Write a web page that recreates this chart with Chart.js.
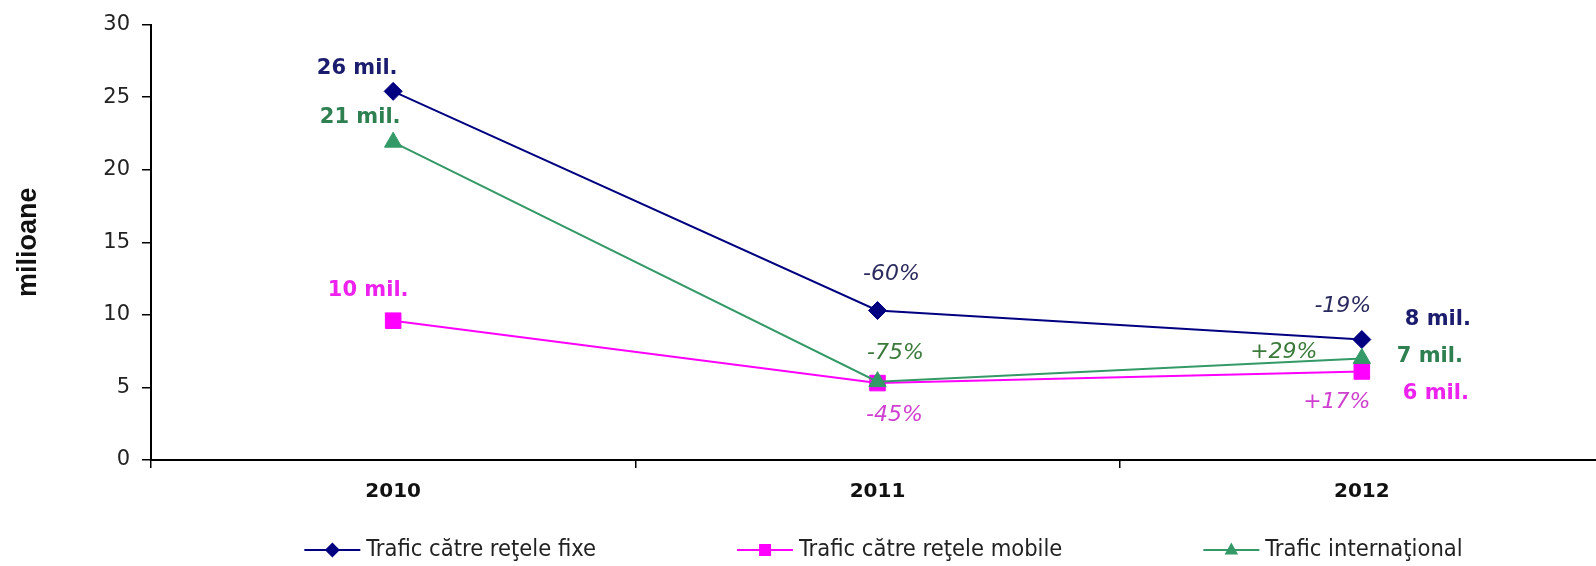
<!DOCTYPE html>
<html>
<head>
<meta charset="utf-8">
<script src="https://cdn.jsdelivr.net/npm/chart.js@4.4.1/dist/chart.umd.min.js"></script>
<style>
  html, body { margin: 0; padding: 0; background: #fff; overflow: hidden; }
  #wrap { width: 1616px; height: 566px; }
</style>
</head>
<body>
<div id="wrap"><canvas id="myChart" width="1616" height="566"></canvas></div>
<script>
const years = ['2010', '2011', '2012'];
const fixe = [25.4, 10.3, 8.3];
const mobile = [9.6, 5.3, 6.1];
const international = [21.9, 5.4, 7.0];
const yTicks = [0, 5, 10, 15, 20, 25, 30];

const seriesNames = ['Trafic către reţele fixe', 'Trafic către reţele mobile', 'Trafic internaţional'];
const startLabels = ['26 mil.', '10 mil.', '21 mil.'];
const endLabels = ['8 mil.', '6 mil.', '7 mil.'];
const change2011 = ['-60%', '-45%', '-75%'];
const change2012 = ['-19%', '+17%', '+29%'];

const valueColors = ['#1c1c6e', '#ee22ee', '#2e8050'];
const pctColors = ['#2a2a5e', '#d040d0', '#3b7a3b'];

function drawMarker(ctx, style, x, y, r, color) {
  ctx.fillStyle = color;
  ctx.beginPath();
  if (style === 'rectRot') {
    ctx.moveTo(x - r, y); ctx.lineTo(x, y - r); ctx.lineTo(x + r, y); ctx.lineTo(x, y + r);
  } else if (style === 'rect') {
    ctx.rect(x - r * 0.8, y - r * 0.8, r * 1.6, r * 1.6);
  } else {
    ctx.moveTo(x, y - r); ctx.lineTo(x + r * 0.9, y + r * 0.6); ctx.lineTo(x - r * 0.9, y + r * 0.6);
  }
  ctx.closePath();
  ctx.fill();
}

// value and change labels next to the points
const notesPlugin = {
  id: 'notes',
  afterDatasetsDraw(chart) {
    const ctx = chart.ctx;
    const xs = chart.scales.x, ys = chart.scales.y;
    const series = [fixe, mobile, international];
    const bold = 'bold 21px "DejaVu Sans"';
    const italic = 'italic 22px "DejaVu Sans"';
    const put = (texts, idx, offsets, font, colors) => {
      texts.forEach((t, s) => {
        const px = xs.getPixelForValue(idx);
        const py = ys.getPixelForValue(series[s][idx]);
        ctx.font = font;
        ctx.fillStyle = colors[s];
        ctx.fillText(t, px + offsets[s][0], py + offsets[s][1]);
      });
    };
    ctx.save();
    ctx.textAlign = 'center';
    ctx.textBaseline = 'middle';
    put(startLabels, 0, [[-36, -23], [-25, -30], [-33, -25]], bold, valueColors);
    put(change2011, 1, [[14, -36], [17, 32], [18, -28]], italic, pctColors);
    put(change2012, 2, [[-19, -33], [-25, 31], [-78, -6]], italic, pctColors);
    put(endLabels, 2, [[76, -20], [74, 22], [68, -2]], bold, valueColors);
    ctx.restore();
  }
};

// legend with a line and a marker for each series
const legendPlugin = {
  id: 'lineLegend',
  afterDraw(chart) {
    const ctx = chart.ctx;
    const ds = chart.data.datasets;
    const lineLen = 56, textGap = 6, itemGap = 141, yMid = chart.height - 16;
    ctx.save();
    ctx.font = '23.5px "DejaVu Sans Condensed", "DejaVu Sans"';
    const widths = ds.map(d => lineLen + textGap + ctx.measureText(d.label).width);
    const total = widths.reduce((a, b) => a + b, 0) + itemGap * (ds.length - 1);
    const area = chart.chartArea;
    let x = (area.left + area.right) / 2 - total / 2 + 6;
    ds.forEach((d, i) => {
      ctx.strokeStyle = d.borderColor;
      ctx.lineWidth = 2;
      ctx.beginPath();
      ctx.moveTo(x, yMid);
      ctx.lineTo(x + lineLen, yMid);
      ctx.stroke();
      drawMarker(ctx, d.pointStyle, x + lineLen / 2, yMid, 7.5, d.backgroundColor);
      ctx.fillStyle = '#222';
      ctx.textAlign = 'left';
      ctx.textBaseline = 'middle';
      ctx.fillText(d.label, x + lineLen + textGap, yMid);
      x += widths[i] + itemGap;
    });
    ctx.restore();
  }
};

const data = {
  labels: years,
  datasets: [{
    label: seriesNames[0],
    data: fixe,
    borderColor: '#000080',
    backgroundColor: '#000080',
    borderWidth: 2,
    pointStyle: 'rectRot',
    pointRadius: 9,
    pointBorderWidth: 1,
    order: 1
  }, {
    label: seriesNames[1],
    data: mobile,
    borderColor: '#ff00ff',
    backgroundColor: '#ff00ff',
    borderWidth: 2,
    pointStyle: 'rect',
    pointRadius: 11,
    pointBorderWidth: 1,
    order: 2
  }, {
    label: seriesNames[2],
    data: international,
    borderColor: '#339966',
    backgroundColor: '#339966',
    borderWidth: 2,
    pointStyle: 'triangle',
    pointRadius: 10,
    pointBorderWidth: 1,
    order: 0
  }]
};

const config = {
  type: 'line',
  data: data,
  plugins: [notesPlugin, legendPlugin],
  options: {
    responsive: false,
    animation: false,
    events: [],
    layout: { padding: { left: 10, right: 5, top: 22, bottom: 56 } },
    plugins: {
      legend: { display: false },
      tooltip: { enabled: false }
    },
    scales: {
      x: {
        offset: true,
        grid: { offset: true, drawOnChartArea: false, drawTicks: true, tickLength: 8, color: '#000', lineWidth: 1.5 },
        border: { color: '#000', width: 2 },
        ticks: { color: '#111', font: { family: 'DejaVu Sans', size: 20, weight: 'bold' }, padding: 12, maxRotation: 0 },
        afterFit: s => { s.height = 50; }
      },
      y: {
        min: 0,
        max: 30,
        afterBuildTicks: s => { s.ticks = yTicks.map(v => ({ value: v })); },
        ticks: { color: '#222', font: { family: 'DejaVu Sans', size: 21 }, padding: 12 },
        grid: { drawOnChartArea: false, tickLength: 9, color: '#000', lineWidth: 1.5 },
        border: { color: '#000', width: 2 },
        title: {
          display: true,
          text: 'milioane',
          color: '#111',
          font: { family: 'Liberation Sans', size: 27, weight: 'bold' },
          padding: { top: 2, bottom: 4 }
        },
        afterFit: s => { s.width = 141; }
      }
    }
  }
};

const myChart = new Chart(document.getElementById('myChart'), config);
</script>
</body>
</html>
